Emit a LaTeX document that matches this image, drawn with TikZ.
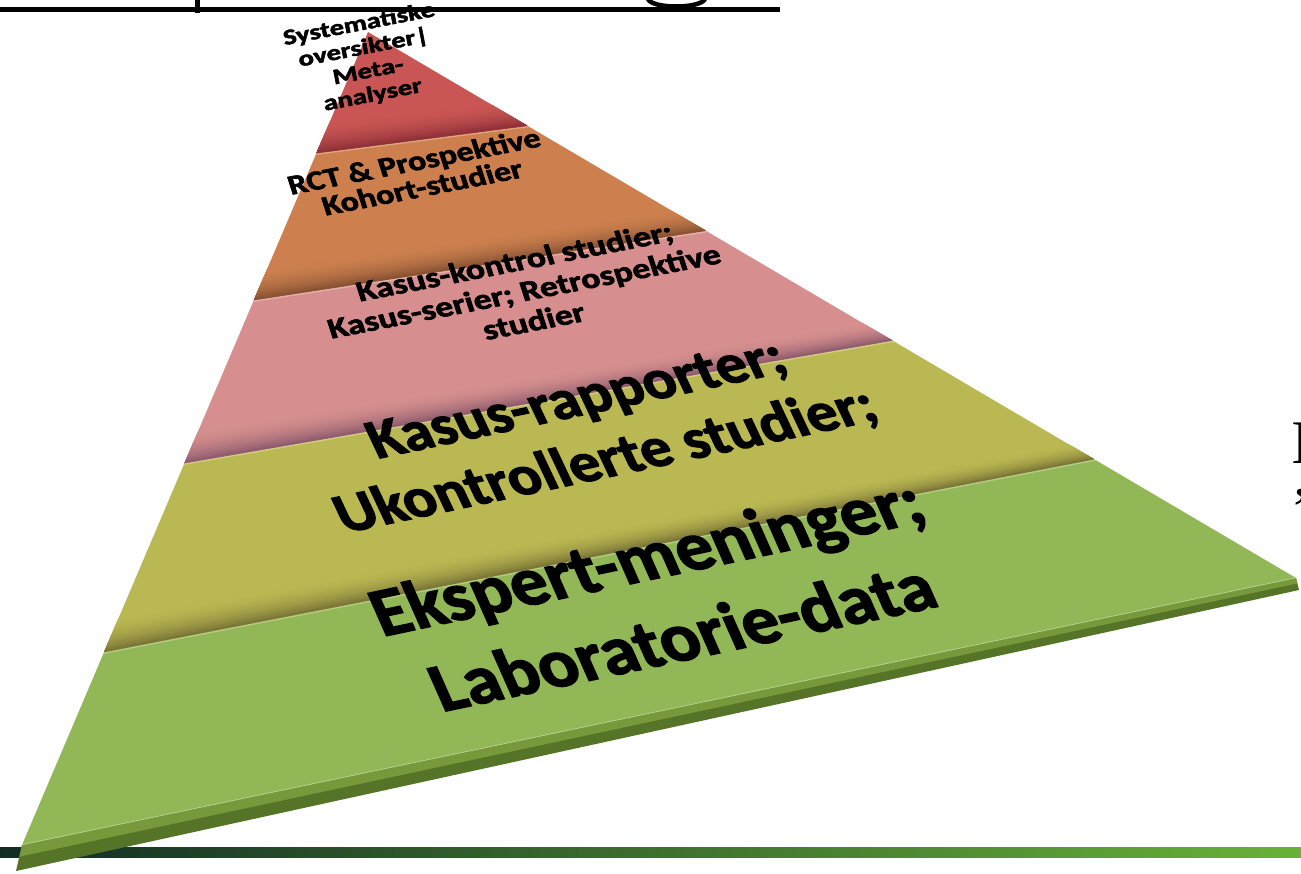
\documentclass[tikz,border=0pt]{standalone}
\usepackage{fontspec}
\setmainfont{Carlito}
\newfontfamily\lblfont{Carlito}[BoldFeatures={FakeBold=2}]
\newfontfamily\titleserif{Liberation Serif}
\usetikzlibrary{calc}

% band colours and their shadowed lower edges
\definecolor{bandRed}{RGB}{201,86,84}
\definecolor{bandRedDk}{RGB}{140,46,54}
\definecolor{bandOrange}{RGB}{205,128,78}
\definecolor{bandOrangeDk}{RGB}{132,80,50}
\definecolor{bandPink}{RGB}{214,143,142}
\definecolor{bandPinkDk}{RGB}{140,90,108}
\definecolor{bandOlive}{RGB}{186,184,82}
\definecolor{bandOliveDk}{RGB}{120,114,54}
\definecolor{bandGreen}{RGB}{146,183,86}
\definecolor{bevelLt}{RGB}{120,152,60}
\definecolor{bevelDk}{RGB}{86,116,40}
\definecolor{barL}{RGB}{18,44,36}
\definecolor{barM}{RGB}{38,92,52}
\definecolor{barR}{RGB}{104,178,56}

\tikzset{
  lbl/.style={align=center, inner sep=0pt, text=black},
  hilite/.style={line width=1.2pt},
}

% darkening strip above a band boundary; #1/#2: boundary y at x=0 / x=1301
\newcommand\bandshadow[4]{%
  \foreach \k in {12,11,...,1}{%
    \pgfmathsetmacro\tl{34*\k/12}%
    \pgfmathsetmacro\tr{17*\k/12}%
    \pgfmathtruncatemacro\mixp{92*((13-\k)/12)^2}%
    \fill[#4!\mixp!#3] (0,#1) -- (1301,#2) -- (1301,{#2-\tr}) -- (0,{#1-\tl}) -- cycle;
  }}

\begin{document}
\begin{tikzpicture}[x=1pt,y=-1pt]
\useasboundingbox (0,0) rectangle (1301,873);
\fill[white] (0,0) rectangle (1301,873);

% underlined heading, only its lowest strokes remain
\fill[black] (0,7) rectangle (780,12);
\fill[black] (195,0) rectangle (200,12.5);
\draw[line width=4.5pt] (648,-1) .. controls (652,9) and (700,9) .. (705,-1);

% green rule along the bottom
\shade[left color=barL, middle color=barM, right color=barR] (0,847) rectangle (1301,857);

% pyramid outline
\coordinate (apex) at (368,32);
\coordinate (bl) at (22,845);
\coordinate (br) at (1296,578);
\coordinate (blb) at (16,871);
\coordinate (brb) at (1299,590);

% bevelled base edge
\fill[bevelDk] (bl) -- (br) -- (brb) -- (blb) -- cycle;
\fill[bevelLt] (bl) -- (br) -- ($(br)!0.45!(brb)$) -- ($(bl)!0.45!(blb)$) -- cycle;

\begin{scope}
  \clip (apex) -- (bl) -- (br) -- cycle;
  \fill[bandRed]    (0,-5) -- (1301,-5) -- (1301,25.5) -- (0,194) -- cycle;
  \fill[bandOrange] (0,194) -- (1301,25.5) -- (1301,139.3) -- (0,339) -- cycle;
  \fill[bandPink]   (0,339) -- (1301,139.3) -- (1301,269.7) -- (0,495) -- cycle;
  \fill[bandOlive]  (0,495) -- (1301,269.7) -- (1301,418.8) -- (0,672.3) -- cycle;
  \fill[bandGreen]  (0,672.3) -- (1301,418.8) -- (1301,880) -- (0,880) -- cycle;
  \bandshadow{194}{25.5}{bandRed}{bandRedDk}
  \bandshadow{339}{139.3}{bandOrange}{bandOrangeDk}
  \bandshadow{495}{269.7}{bandPink}{bandPinkDk}
  \bandshadow{672.3}{418.8}{bandOlive}{bandOliveDk}
  \draw[hilite, bandOrange!70!white] (0,195.2) -- (1301,26.7);
  \draw[hilite, bandPink!70!white]   (0,340.2) -- (1301,140.5);
  \draw[hilite, bandOlive!70!white]  (0,496.2) -- (1301,270.9);
  \draw[hilite, bandGreen!70!white]  (0,673.5) -- (1301,420.0);
  \draw[hilite, bandGreen!60!white]  (bl) -- (br);
\end{scope}

% level labels
\node[lbl, rotate=11, xscale=1.3, font={\lblfont\bfseries\fontsize{22}{24}\selectfont}] (meta) at (366,60)
  {Systematiske\\oversikter|\\Meta-\\analyser};
\node[lbl, rotate=11, xscale=1.2, xslant=-0.1, font={\lblfont\bfseries\fontsize{28}{27}\selectfont}] (rct) at (418,174)
  {RCT \& Prospektive\\Kohort-studier};
\node[lbl, rotate=11, xscale=1.22, xslant=-0.1, font={\lblfont\bfseries\fontsize{29}{31}\selectfont}] (kasus) at (524,291)
  {Kasus-kontrol studier;\\Kasus-serier; Retrospektive\\studier};
\node[lbl, rotate=12, xscale=1.07, xslant=-0.22, font={\lblfont\bfseries\fontsize{57}{66}\selectfont}] (rapp) at (592,432)
  {Kasus-rapporter;\\Ukontrollerte studier;};
\node[lbl, rotate=12, xscale=1.05, xslant=-0.2, font={\lblfont\bfseries\fontsize{70}{86}\selectfont}] (ekspert) at (664,596)
  {Ekspert-meninger;\\Laboratorie-data};

% text running in from the right margin
\begin{scope}
  \clip (0,0) rectangle (1301,873);
  \node[anchor=base west, inner sep=0pt, font={\titleserif\fontsize{62}{74}\selectfont}] (capI) at (1291,463) {I};
  \node[anchor=base west, inner sep=0pt, font={\titleserif\fontsize{62}{74}\selectfont}] (quote) at (1293,530) {”};
\end{scope}
\end{tikzpicture}
\end{document}
